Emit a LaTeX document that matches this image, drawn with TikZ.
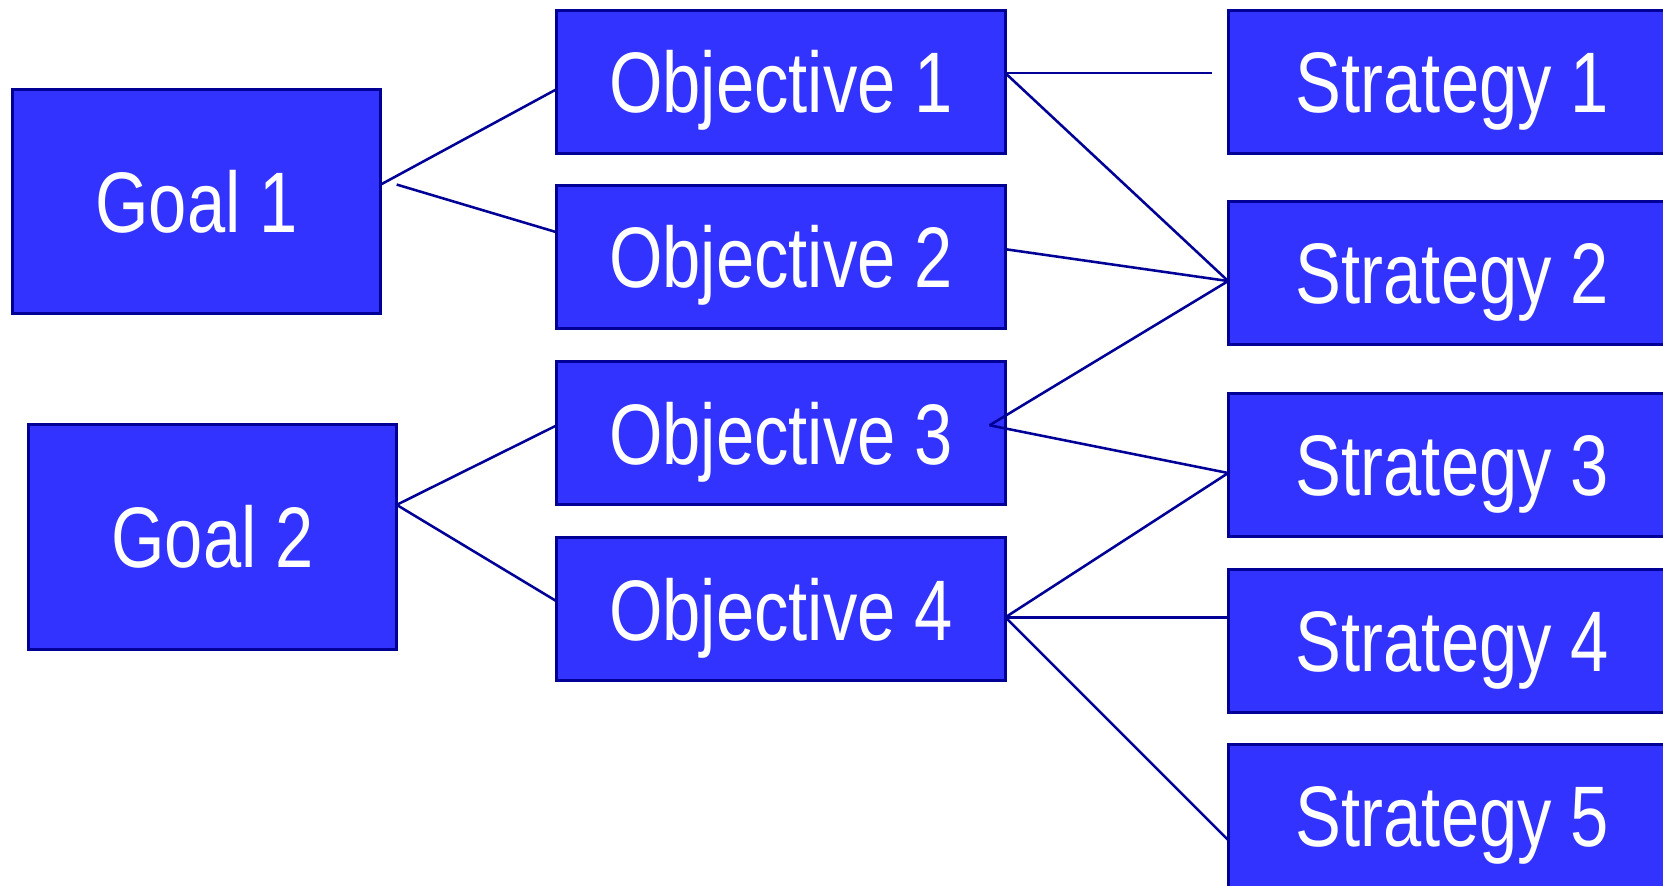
\documentclass[tikz,border=0pt]{standalone}
\usepackage{fontspec}
\setmainfont[FakeStretch=0.8]{Liberation Sans}
\definecolor{boxblue}{RGB}{51,51,255}
\definecolor{navy}{RGB}{0,0,150}
\begin{document}
\begin{tikzpicture}[x=0.5pt,y=-0.5pt,
  box/.style={draw=navy, line width=1.4pt, fill=boxblue, text=white, inner sep=0pt,
    font=\fontsize{40.5}{48}\selectfont, text height=29pt, text depth=0pt, anchor=center},
  goalbox/.style={box, minimum width=173.5pt, minimum height=106pt},
  objbox/.style={box, minimum width=211.5pt, minimum height=67.5pt},
  link/.style={draw=navy, line width=1.2pt}]
\useasboundingbox (0,0) rectangle (1568,835);
\clip (0,0) rectangle (1568,835);
% boxes
\node[goalbox] (g1) at (185.5,190) {Goal 1};
\node[goalbox] (g2) at (200.5,506.5) {Goal 2};
\node[objbox] (o1) at (736.5,77) {Objective 1};
\node[objbox] (o2) at (736.5,242.5) {Objective 2};
\node[objbox] (o3) at (736.5,408.5) {Objective 3};
\node[objbox] (o4) at (736.5,574.5) {Objective 4};
\node[objbox] (s1) at (1369.5,77) {Strategy 1};
\node[objbox] (s2) at (1369.5,257.5) {Strategy 2};
\node[objbox] (s3) at (1369.5,438.5) {Strategy 3};
\node[objbox] (s4) at (1369.5,604.5) {Strategy 4};
\node[objbox] (s5) at (1369.5,769.5) {Strategy 5};
% connection points
\coordinate (g1a) at (359,174);
\coordinate (g1b) at (374,174);
\coordinate (g2a) at (374,476);
\coordinate (o1in) at (525,84);
\coordinate (o2in) at (525,219);
\coordinate (o3in) at (525,401);
\coordinate (o4in) at (525,567);
\coordinate (o1out) at (948,69);
\coordinate (o1end) at (1143,69);
\coordinate (o2out) at (948,235);
\coordinate (o3out) at (933,401);
\coordinate (o4out) at (948,582);
\coordinate (s2in) at (1158,265);
\coordinate (s3in) at (1158,446);
\coordinate (s4in) at (1158,582);
\coordinate (s5in) at (1158,792);
% connectors
\draw[link] (g1a) -- (o1in);
\draw[link] (g1b) -- (o2in);
\draw[link] (g2a) -- (o3in);
\draw[link] (g2a) -- (o4in);
\draw[link] (o1out) -- (o1end);
\draw[link] (o1out) -- (s2in);
\draw[link] (o2out) -- (s2in);
\draw[link] (o3out) -- (s2in);
\draw[link] (o3out) -- (s3in);
\draw[link] (o4out) -- (s3in);
\draw[link] (o4out) -- (s4in);
\draw[link] (o4out) -- (s5in);
\end{tikzpicture}
\end{document}
